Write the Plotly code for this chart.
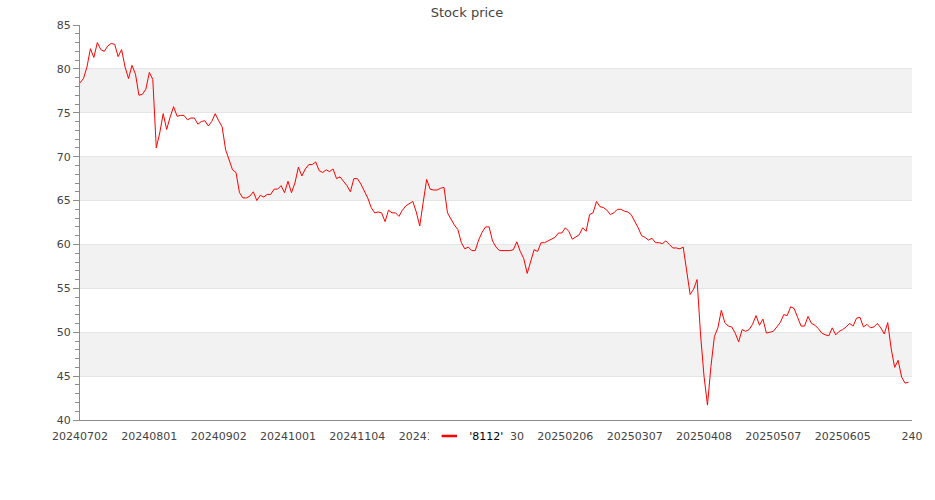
import plotly.graph_objects as go

# ---- data -----------------------------------------------------------
series_name = "'8112'"
prices = [
    78.4, 78.9, 80.2, 82.3, 81.3, 83.0, 82.2, 82.0, 82.6, 82.9, 82.8, 81.4, 82.2, 80.2, 78.9, 80.4, 79.4, 77.0, 77.1, 77.7, 79.6, 78.8,
    71.0, 72.7, 74.9, 73.1, 74.5, 75.7, 74.6, 74.7, 74.7, 74.2, 74.4, 74.4, 73.7, 74.0, 74.1, 73.5, 74.0, 74.9, 74.1, 73.4, 70.8, 69.6, 68.5, 68.2,
    65.9, 65.3, 65.3, 65.5, 66.0, 65.0, 65.6, 65.4, 65.7, 65.7, 66.3, 66.3, 66.7, 65.9, 67.2, 65.9, 67.0, 68.8,
    67.8, 68.6, 69.1, 69.1, 69.4, 68.4, 68.2, 68.5, 68.3, 68.6, 67.5, 67.7, 67.2, 66.7, 66.0, 67.5, 67.5, 66.9, 66.1, 65.3, 64.2, 63.6, 63.7, 63.6,
    62.6, 63.9, 63.6, 63.6, 63.2, 63.9, 64.4, 64.7, 64.9, 63.7, 62.1, 64.8, 67.4, 66.3, 66.2, 66.2, 66.4, 66.5,
    63.6, 62.9, 62.2, 61.7, 60.2, 59.5, 59.7, 59.3, 59.3, 60.5, 61.4, 62.0, 62.0, 60.4, 59.7, 59.3, 59.3, 59.3, 59.3, 59.4,
    60.3, 59.2, 58.4, 56.7, 58.2, 59.4, 59.2, 60.2, 60.2, 60.4, 60.6, 60.8, 61.3, 61.3, 61.9, 61.5, 60.6, 60.9, 61.1, 61.9,
    61.5, 63.4, 63.6, 64.9, 64.3, 64.2, 63.9, 63.4, 63.6, 64.0, 64.0, 63.8, 63.7, 63.4,
    62.7, 61.9, 61.0, 60.8, 60.5, 60.7, 60.2, 60.2, 60.1, 60.4, 60.0, 59.6, 59.6, 59.5, 59.7, 57.2, 54.3, 54.9, 56.0, 49.8,
    45.0, 41.7, 46.1, 49.5, 50.5, 52.5, 51.1, 50.7, 50.6, 49.9, 48.9, 50.3, 50.1, 50.3, 50.9, 51.9, 50.8, 51.5, 49.9, 50.0,
    50.1, 50.6, 51.1, 52.0, 51.9, 52.9, 52.7, 51.7, 50.7, 50.7, 51.8, 51.0, 50.8, 50.4, 49.9, 49.7, 49.6, 50.5, 49.7, 50.1,
    50.3, 50.6, 51.0, 50.7, 51.6, 51.7, 50.6, 50.9, 50.5, 50.6, 51.0, 50.5, 49.8, 51.1, 48.1, 46.0, 46.8, 44.9, 44.2, 44.3,
]
x_tick_positions = [0, 20, 40, 60, 80, 100, 120, 140, 160, 180, 200, 220, 240]
x_tick_labels = ["20240702", "20240801", "20240902", "20241001", "20241104", "20241202",
                 "20241230", "20250206", "20250307", "20250408", "20250507", "20250605", "240"]
y_ticks = [40, 45, 50, 55, 60, 65, 70, 75, 80, 85]

idx = list(range(len(prices)))

# ---- figure ---------------------------------------------------------
fig = go.Figure()
fig.add_trace(go.Scatter(x=idx, y=prices, mode="lines",
                         line=dict(color="#ff0000", width=1),
                         showlegend=False, name=series_name))
# legend entry (short line glyph)
fig.add_trace(go.Scatter(x=[None], y=[None], mode="markers", name=series_name,
                         marker=dict(symbol="line-ew", size=11,
                                     line=dict(color="#ff0000", width=2.5))))

# alternating horizontal bands between y ticks
shapes = []
for k in range(1, len(y_ticks) - 1, 2):
    shapes.append(dict(type="rect", xref="paper", yref="y", x0=0, x1=1,
                       y0=y_ticks[k], y1=y_ticks[k + 1],
                       fillcolor="#f2f2f2", line=dict(width=0), layer="below"))

font = "DejaVu Sans"
W, H = 935, 500
fig.update_layout(
    width=W, height=H,
    margin=dict(l=80, r=19, t=25, b=80),
    paper_bgcolor="white", plot_bgcolor="white",
    shapes=shapes,
    title=dict(text="Stock price", x=467 / W, xref="container", xanchor="center",
               y=1 - 12 / H, yref="container", yanchor="middle",
               font=dict(family=font, size=13, color="#444444")),
    font=dict(family=font, size=11, color="#444444"),
    showlegend=True,
    legend=dict(orientation="h", x=(431 - 80) / 836, xanchor="left",
                y=-1.5 / 395, yanchor="top", bgcolor="white",
                borderwidth=0, font=dict(family=font, size=11, color="#000000")),
    xaxis=dict(range=[0, 240], tickmode="array", tickvals=x_tick_positions,
               ticktext=x_tick_labels, showgrid=False, zeroline=False,
               showline=True, linecolor="#8c8c8c", linewidth=1,
               ticks="", ticklabelstandoff=6,
               tickfont=dict(family=font, size=11, color="#444444")),
    yaxis=dict(range=[40, 85], tickmode="array", tickvals=y_ticks,
               showgrid=True, gridcolor="#e5e5e5", gridwidth=1, zeroline=False,
               showline=True, linecolor="#8c8c8c", linewidth=1,
               ticks="outside", ticklen=6, tickcolor="#8c8c8c", tickwidth=1,
               minor=dict(dtick=1, ticks="outside", ticklen=4, tickcolor="#8c8c8c",
                          showgrid=False),
               tickfont=dict(family=font, size=11, color="#444444")),
)

fig.write_html("out.html", config={"displayModeBar": False},
               post_script="document.body.style.margin='0';")
